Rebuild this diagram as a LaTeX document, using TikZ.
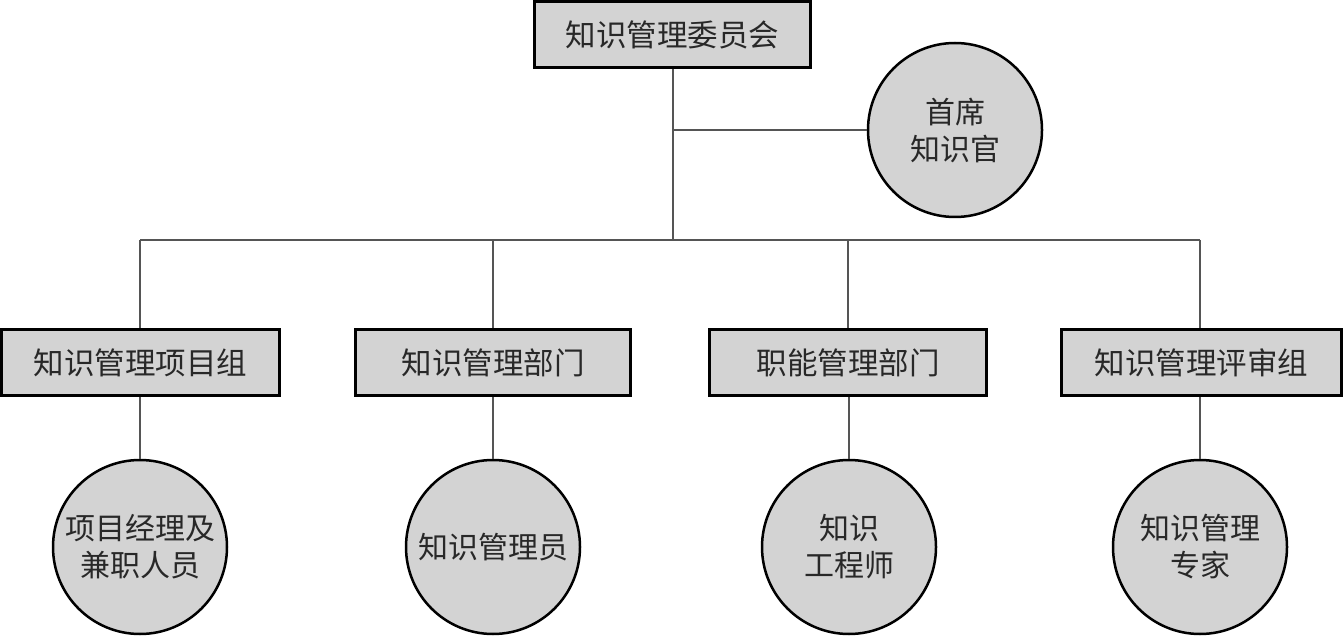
\documentclass[tikz,border=0pt]{standalone}
\usepackage{fontspec}
\newfontfamily\cjk{Noto Sans CJK SC}
\definecolor{boxfill}{RGB}{211,211,211}
\definecolor{linkgray}{RGB}{85,85,85}
\definecolor{txt}{RGB}{40,40,40}
\begin{document}
\begin{tikzpicture}[x=1pt,y=-1pt,
  orgbox/.style={draw=black,fill=boxfill,line width=3pt,minimum width=276pt,minimum height=66pt,inner sep=0pt,font=\cjk\fontsize{30.5}{37}\selectfont,text=txt},
  orgcircle/.style={draw=black,fill=boxfill,circle,line width=2.5pt,minimum size=174pt,inner sep=0pt,align=center,font=\cjk\fontsize{30}{37}\selectfont,text=txt},
  link/.style={draw=linkgray,line width=2pt}]
\useasboundingbox (0,0) rectangle (1343,636);
\clip (0,0) rectangle (1343,636);
\fill[white] (0,0) rectangle (1343,636);
% nodes
\node[orgbox] (top) at (672.5,34.5) {知识管理委员会};
\node[orgcircle] (cko) at (955,130) {首席\\知识官};
\node[orgbox,minimum width=278pt] (b1) at (140.5,362.5) {知识管理项目组};
\node[orgbox,minimum width=275pt] (b2) at (493,362.5) {知识管理部门};
\node[orgbox,minimum width=277pt] (b3) at (848,362.5) {职能管理部门};
\node[orgbox,minimum width=280pt] (b4) at (1201.5,362.5) {知识管理评审组};
\node[orgcircle] (c1) at (140,547) {项目经理及\\兼职人员};
\node[orgcircle] (c2) at (493,547) {知识管理员};
\node[orgcircle] (c3) at (849,547) {知识\\工程师};
\node[orgcircle] (c4) at (1200,547) {知识管理\\专家};
% junctions
\coordinate (bus) at (673,240);
\coordinate (busL) at (140,240);
\coordinate (busR) at (1200,240);
\coordinate (mid) at (673,130);
% connectors
\path[link] (top.south -| bus) -- (bus);
\path[link] (mid) -- (cko.west);
\path[link] (busL) -- (busR);
\path[link] (busL) -- (b1.north -| busL);
\path[link] (b2.north |- bus) -- (b2.north);
\path[link] (b3.north |- bus) -- (b3.north);
\path[link] (busR) -- (b4.north -| busR);
\path[link] (b1.south -| c1.north) -- (c1.north);
\path[link] (b2.south) -- (c2.north);
\path[link] (b3.south -| c3.north) -- (c3.north);
\path[link] (b4.south -| c4.north) -- (c4.north);
\end{tikzpicture}
\end{document}
